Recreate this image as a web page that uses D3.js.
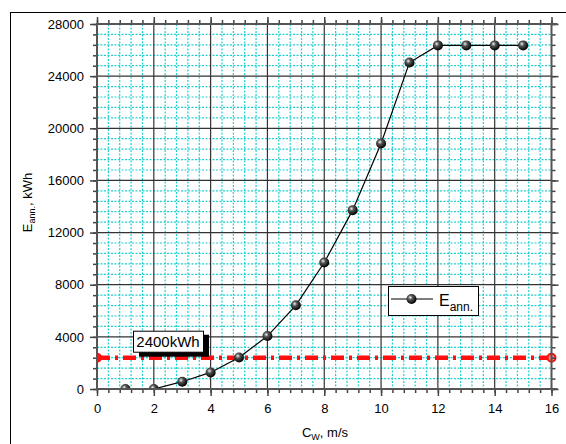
<!DOCTYPE html>
<html>
<head>
<meta charset="utf-8">
<script src="https://cdn.jsdelivr.net/npm/d3@7"></script>
<style>
  body { margin: 0; background: #fff; }
  svg { display: block; font-family: Arial, "Liberation Sans", sans-serif; }
</style>
</head>
<body>
<svg id="chart" width="566" height="444"></svg>
<script>
// wind speed vs annual energy yield
const windSpeeds = [1, 2, 3, 4, 5, 6, 7, 8, 9, 10, 11, 12, 13, 14, 15];
const energyAnnual = [0, 0, 560, 1270, 2420, 4060, 6420, 9700, 13720, 18830, 25040, 26360, 26360, 26360, 26360];
const threshold = 2400;
const thresholdLabel = '2400kWh';
const xTicks = [0, 2, 4, 6, 8, 10, 12, 14, 16];
const yTicks = [0, 4000, 8000, 12000, 16000, 20000, 24000, 28000];

const svg = d3.select('#chart');
const plot = { left: 97, right: 551.5, top: 24, bottom: 389 };

const x = d3.scaleLinear().domain([0, 16]).range([plot.left, plot.right]);
const y = d3.scaleLinear().domain([0, 28000]).range([plot.bottom, plot.top]);

const xMinor = d3.range(0, 16.01, 0.4);
const yMinor = d3.range(0, 28001, 800);

// outer frame
svg.append('rect')
  .attr('x', 10.5).attr('y', 12.5)
  .attr('width', 600).attr('height', 500)
  .attr('fill', 'none').attr('stroke', '#000').attr('stroke-width', 1);

const defs = svg.append('defs');
const grad = defs.append('radialGradient')
  .attr('id', 'ball').attr('cx', '38%').attr('cy', '35%').attr('r', '65%');
grad.append('stop').attr('offset', '0%').attr('stop-color', '#f4f4f4');
grad.append('stop').attr('offset', '35%').attr('stop-color', '#555');
grad.append('stop').attr('offset', '100%').attr('stop-color', '#000');

defs.append('clipPath').attr('id', 'clip')
  .append('rect')
  .attr('x', plot.left).attr('y', plot.top - 8)
  .attr('width', plot.right - plot.left + 8).attr('height', plot.bottom - plot.top + 8);

// minor grid (cyan dotted)
const grid = svg.append('g');
grid.selectAll('.vminor')
  .data(xMinor.filter(d => Math.abs(d / 2 - Math.round(d / 2)) > 1e-6))
  .enter().append('line')
  .attr('x1', d => x(d)).attr('x2', d => x(d))
  .attr('y1', plot.top).attr('y2', plot.bottom)
  .attr('stroke', '#1fd0d0').attr('stroke-width', 1.2).attr('stroke-dasharray', '2,1.5');
grid.selectAll('.hminor')
  .data(yMinor.filter(d => d % 4000 !== 0))
  .enter().append('line')
  .attr('x1', plot.left).attr('x2', plot.right)
  .attr('y1', d => y(d)).attr('y2', d => y(d))
  .attr('stroke', '#1fd0d0').attr('stroke-width', 1.2).attr('stroke-dasharray', '2,1.5');

// major grid
grid.selectAll('.vmajor')
  .data(xTicks.slice(1, -1))
  .enter().append('line')
  .attr('x1', d => x(d)).attr('x2', d => x(d))
  .attr('y1', plot.top).attr('y2', plot.bottom)
  .attr('stroke', '#333').attr('stroke-width', 1.2);
grid.selectAll('.hmajor')
  .data(yTicks.slice(1, -1))
  .enter().append('line')
  .attr('x1', plot.left).attr('x2', plot.right)
  .attr('y1', d => y(d)).attr('y2', d => y(d))
  .attr('stroke', '#333').attr('stroke-width', 1.2);

// threshold line
svg.append('line')
  .attr('x1', x(0)).attr('x2', x(16))
  .attr('y1', y(threshold)).attr('y2', y(threshold))
  .attr('stroke', '#ff1010').attr('stroke-width', 4.5)
  .attr('stroke-dasharray', '13,5,3,5');
svg.append('path')
  .attr('d', `M${x(0)},${y(threshold) - 5} a5,5 0 0,1 0,10 z`)
  .attr('fill', '#ff1010');
svg.append('circle')
  .attr('cx', x(16)).attr('cy', y(threshold)).attr('r', 4)
  .attr('fill', '#ff8080').attr('stroke', '#ff1010').attr('stroke-width', 2);

// data series
const series = windSpeeds.map((d, i) => ({ x: d, y: energyAnnual[i] }));
const line = d3.line().x(d => x(d.x)).y(d => y(d.y));
const dataG = svg.append('g').attr('clip-path', 'url(#clip)');
dataG.append('path')
  .datum(series)
  .attr('d', line)
  .attr('fill', 'none').attr('stroke', '#000').attr('stroke-width', 1.2);
dataG.selectAll('.pt')
  .data(series)
  .enter().append('circle')
  .attr('cx', d => x(d.x)).attr('cy', d => y(d.y)).attr('r', 5)
  .attr('fill', 'url(#ball)');

// axes
function styleAxis(g) {
  g.select('.domain').remove();
  g.selectAll('.tick line').attr('stroke', '#444').attr('stroke-width', 1.5);
  g.selectAll('text').attr('fill', '#000').attr('font-size', 13);
}

svg.append('g').attr('transform', `translate(0,${plot.bottom})`)
  .call(d3.axisBottom(x).tickValues(xMinor).tickSize(4).tickFormat(''))
  .call(styleAxis);
svg.append('g').attr('transform', `translate(0,${plot.bottom})`)
  .call(d3.axisBottom(x).tickValues(xTicks).tickSize(7).tickPadding(8).tickFormat(d3.format('d')))
  .call(styleAxis);

svg.append('g').attr('transform', `translate(0,${plot.top})`)
  .call(d3.axisTop(x).tickValues(xMinor).tickSize(4).tickFormat(''))
  .call(styleAxis);
svg.append('g').attr('transform', `translate(0,${plot.top})`)
  .call(d3.axisTop(x).tickValues(xTicks).tickSize(7).tickFormat(''))
  .call(styleAxis);

svg.append('g').attr('transform', `translate(${plot.left},0)`)
  .call(d3.axisLeft(y).tickValues(yMinor).tickSize(4).tickFormat(''))
  .call(styleAxis);
svg.append('g').attr('transform', `translate(${plot.left},0)`)
  .call(d3.axisLeft(y).tickValues(yTicks).tickSize(7).tickPadding(6).tickFormat(d3.format('d')))
  .call(styleAxis);

svg.append('g').attr('transform', `translate(${plot.right},0)`)
  .call(d3.axisRight(y).tickValues(yMinor).tickSize(4).tickFormat(''))
  .call(styleAxis);
svg.append('g').attr('transform', `translate(${plot.right},0)`)
  .call(d3.axisRight(y).tickValues(yTicks).tickSize(7).tickFormat(''))
  .call(styleAxis);

// axis lines
const axisLines = [
  [plot.left, plot.top, plot.right + 6, plot.top],
  [plot.left, plot.bottom, plot.right + 6, plot.bottom],
  [plot.left, plot.top - 1, plot.left, plot.bottom + 1],
  [plot.right, plot.top - 1, plot.right, plot.bottom + 1]
];
svg.selectAll('.axline')
  .data(axisLines)
  .enter().append('line')
  .attr('x1', d => d[0]).attr('y1', d => d[1])
  .attr('x2', d => d[2]).attr('y2', d => d[3])
  .attr('stroke', '#555').attr('stroke-width', 2);

// threshold label with shadow
const lbl = svg.append('g').attr('transform', `translate(133,${y(threshold) - 27})`);
lbl.append('rect').attr('x', 6).attr('y', 4).attr('width', 70).attr('height', 22).attr('fill', '#000');
lbl.append('rect').attr('x', 0.5).attr('y', 0.5).attr('width', 70).attr('height', 21)
  .attr('fill', '#fff').attr('stroke', '#000');
lbl.append('text').attr('x', 35).attr('y', 16.5).attr('text-anchor', 'middle')
  .attr('font-size', 15).text(thresholdLabel);

// legend
const lg = svg.append('g').attr('transform', 'translate(388,286)');
lg.append('rect').attr('x', 0.5).attr('y', 0.5).attr('width', 90).attr('height', 29)
  .attr('fill', '#fff').attr('stroke', '#000');
lg.append('line').attr('x1', 3).attr('x2', 45).attr('y1', 13).attr('y2', 13)
  .attr('stroke', '#000').attr('stroke-width', 1.2);
lg.append('circle').attr('cx', 23.5).attr('cy', 13).attr('r', 5).attr('fill', 'url(#ball)');
const lgText = lg.append('text').attr('x', 51).attr('y', 20).attr('font-size', 16);
lgText.append('tspan').text('E');
lgText.append('tspan').attr('font-size', 12).attr('dy', 5).text('ann.');

// axis titles
const xt = svg.append('text').attr('x', 325).attr('y', 437).attr('text-anchor', 'middle').attr('font-size', 13);
xt.append('tspan').text('C');
xt.append('tspan').attr('font-size', 9).attr('dy', 3).text('W');
xt.append('tspan').attr('dy', -3).text(', m/s');

const yt = svg.append('text')
  .attr('transform', `translate(32,${(plot.top + plot.bottom) / 2 - 4}) rotate(-90)`)
  .attr('text-anchor', 'middle').attr('font-size', 13);
yt.append('tspan').text('E');
yt.append('tspan').attr('font-size', 9).attr('dy', 3).text('ann.');
yt.append('tspan').attr('dy', -3).text(', kWh');
</script>
</body>
</html>
